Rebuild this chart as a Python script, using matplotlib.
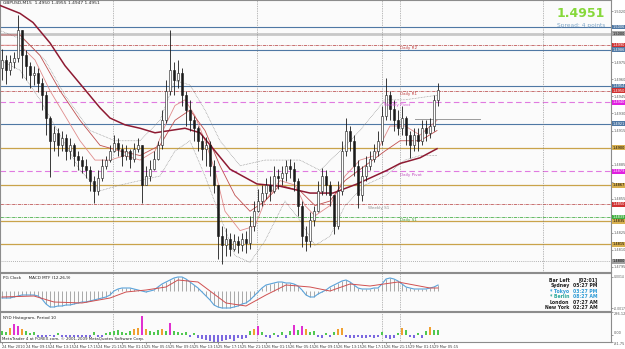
import numpy as np
import matplotlib
matplotlib.use('Agg')
import matplotlib.pyplot as plt
from matplotlib.transforms import blended_transform_factory as btf

# ---------------- data ----------------
first_open = 1.4970
close = [1.4977,1.4968,1.4975,1.4979,1.5003,1.4981,1.4972,1.4964,1.4966,1.4957,
         1.4946,1.4926,1.4906,1.4913,1.4902,1.4908,1.4897,1.4902,1.4893,1.4889,
         1.4884,1.4880,1.4871,1.4862,1.4873,1.4884,1.4889,1.4897,1.4904,1.4899,
         1.4893,1.4897,1.4890,1.4899,1.4902,1.4867,1.4875,1.4881,1.4890,1.4902,
         1.4924,1.4950,1.4968,1.4959,1.4966,1.4946,1.4933,1.4924,1.4917,1.4906,
         1.4899,1.4902,1.4884,1.4867,1.4822,1.4814,1.4820,1.4811,1.4818,1.4814,
         1.4820,1.4816,1.4831,1.4844,1.4853,1.4860,1.4867,1.4862,1.4875,1.4873,
         1.4878,1.4884,1.4881,1.4871,1.4849,1.4822,1.4818,1.4836,1.4844,1.4862,
         1.4875,1.4867,1.4858,1.4831,1.4862,1.4897,1.4915,1.4906,1.4884,1.4858,
         1.4875,1.4884,1.4890,1.4897,1.4906,1.4928,1.4946,1.4934,1.4924,1.4917,
         1.4926,1.4911,1.4902,1.4911,1.4906,1.4917,1.4913,1.4919,1.4942,1.4951]
high = [1.4987,1.4981,1.4981,1.4984,1.5017,1.5003,1.4986,1.4975,1.4972,1.4970,
        1.4961,1.4950,1.4928,1.4919,1.4917,1.4915,1.4912,1.4908,1.4904,1.4897,
        1.4893,1.4890,1.4884,1.4875,1.4880,1.4890,1.4893,1.4902,1.4911,1.4908,
        1.4903,1.4902,1.4899,1.4904,1.4908,1.4902,1.4884,1.4889,1.4897,1.4906,
        1.4933,1.4959,1.5003,1.4975,1.4977,1.4970,1.4950,1.4942,1.4928,1.4919,
        1.4911,1.4909,1.4906,1.4889,1.4867,1.4831,1.4829,1.4825,1.4824,1.4822,
        1.4825,1.4827,1.4840,1.4853,1.4864,1.4867,1.4873,1.4875,1.4884,1.4881,
        1.4884,1.4889,1.4890,1.4887,1.4873,1.4853,1.4831,1.4843,1.4849,1.4871,
        1.4882,1.4880,1.4871,1.4858,1.4871,1.4906,1.4926,1.4919,1.4911,1.4889,
        1.4884,1.4893,1.4897,1.4903,1.4915,1.4937,1.4961,1.4950,1.4942,1.4933,
        1.4937,1.4928,1.4915,1.4917,1.4917,1.4924,1.4924,1.4926,1.4946,1.4957]
low = [1.4959,1.4956,1.4964,1.4970,1.4975,1.4961,1.4959,1.4952,1.4955,1.4949,
       1.4933,1.4911,1.4874,1.4897,1.4893,1.4897,1.4889,1.4890,1.4884,1.4880,
       1.4878,1.4873,1.4862,1.4851,1.4858,1.4871,1.4881,1.4887,1.4896,1.4893,
       1.4884,1.4889,1.4882,1.4887,1.4896,1.4851,1.4867,1.4871,1.4880,1.4889,
       1.4899,1.4922,1.4946,1.4946,1.4952,1.4937,1.4919,1.4915,1.4906,1.4897,
       1.4889,1.4884,1.4875,1.4860,1.4802,1.4798,1.4805,1.4805,1.4809,1.4807,
       1.4809,1.4807,1.4811,1.4827,1.4843,1.4849,1.4855,1.4853,1.4860,1.4864,
       1.4867,1.4871,1.4873,1.4862,1.4840,1.4813,1.4809,1.4813,1.4831,1.4843,
       1.4858,1.4858,1.4849,1.4824,1.4828,1.4858,1.4893,1.4897,1.4875,1.4847,
       1.4853,1.4871,1.4880,1.4887,1.4893,1.4902,1.4924,1.4924,1.4915,1.4911,
       1.4911,1.4902,1.4891,1.4897,1.4897,1.4902,1.4906,1.4908,1.4915,1.4937]

# moving averages (bar position, price)
ma_slow_x = [-0.5,4.5,7.75,12,15.75,20.25,24.5,27,30.75,34.5,38.25,42,45.75,49.5,53.25,57,63.75,69.5,77,82.75,88.75,96.25,99.5,104.5,108.75]
ma_slow_y = [1.5025,1.5018,1.5010,1.4992,1.4972,1.4953,1.4935,1.4926,1.4920,1.4917,1.4913,1.4915,1.4917,1.4913,1.4897,1.4881,1.4868,1.4866,1.4860,1.4860,1.4868,1.4880,1.4886,1.4891,1.4899]
ema_fast_x = [-0.5,4.5,8.25,12,15.75,19.5,23.25,27,30.75,34.5,38.25,40.75,43.25,45.75,48.25,50.75,53.25,55.75,59.5,63.25,65.75,69.5,73.25,75.75,78.25,82,85.75,89.5,93.25,97,100.75,104.5,108.75]
ema_fast_y = [1.4990,1.4990,1.4977,1.4950,1.4928,1.4906,1.4889,1.4889,1.4893,1.4889,1.4897,1.4919,1.4937,1.4942,1.4928,1.4906,1.4880,1.4844,1.4827,1.4831,1.4853,1.4871,1.4867,1.4849,1.4840,1.4849,1.4875,1.4889,1.4893,1.4919,1.4919,1.4911,1.4924]
ema_mid_x = [-0.5,4.5,9.5,14.5,19.5,24.5,29.5,34.5,39.5,43.25,47,50.75,54.5,58.25,62,65.75,69.5,74.5,78.25,82,85.75,90.75,95.75,99.5,104.5,108.75]
ema_mid_y = [1.4999,1.4999,1.4981,1.4950,1.4924,1.4902,1.4897,1.4893,1.4902,1.4924,1.4933,1.4915,1.4884,1.4858,1.4844,1.4853,1.4867,1.4862,1.4849,1.4853,1.4871,1.4884,1.4897,1.4906,1.4906,1.4915]
band_up_x = [-0.5,5.75,10.75,15.75,22,28.25,34.5,39.5,43.25,47,50.75,54.5,59.5,65.75,70.75,74.5,79.5,84.5,89.5,95.75,100.75,108.75]
band_up_y = [1.5003,1.4994,1.4977,1.4946,1.4915,1.4906,1.4906,1.4924,1.4959,1.4955,1.4933,1.4906,1.4884,1.4889,1.4889,1.4889,1.4880,1.4897,1.4915,1.4942,1.4942,1.4946]
band_dn_x = [-0.5,4.5,9.5,14.5,19.5,24.5,29.5,34.5,39.5,43.25,47,50.75,54.5,58.25,62,65.75,70.75,74.5,78.25,82,85.75,90.75,95.75,100.75,104.5,108.75]
band_dn_y = [1.4977,1.4968,1.4942,1.4911,1.4880,1.4862,1.4867,1.4871,1.4875,1.4897,1.4906,1.4875,1.4840,1.4805,1.4799,1.4818,1.4853,1.4836,1.4814,1.4822,1.4849,1.4867,1.4875,1.4889,1.4893,1.4893]

# horizontal levels
level_prices = [1.5006, 1.5000, 1.4990, 1.4986, 1.4954, 1.4950, 1.4940, 1.4921,
                1.4900, 1.4879, 1.4867, 1.4850, 1.4839, 1.4835, 1.4815, 1.4800]
level_kinds = ['blue', 'round', 'red', 'blue', 'blue', 'red', 'magenta', 'blue',
               'gold', 'magenta', 'gold', 'red', 'green', 'gold', 'gold', 'grey']
level_names = [(99.5, 1.4990, 'Daily R2', '#C04040'),
               (99.5, 1.4950, 'Daily R1', '#C04040'),
               (95.5, 1.4940, 'Weekly Pivot', '#D050D0'),
               (99.5, 1.4879, 'Daily Pivot', '#C050C0'),
               (91.5, 1.4850, 'Weekly S1', '#909090'),
               (99.5, 1.4839, 'Daily S1', '#40A040')]
segment_x = [103.25, 119.5]
segment_y = [1.4925, 1.4925]
event_x = [27.75, 63.75, 95.0, 99.5]
future_x = [135.25]

price_ticks = [1.4795, 1.4810, 1.4825, 1.4840, 1.4855, 1.4870, 1.4885, 1.4900,
               1.4915, 1.4930, 1.4945, 1.4960, 1.4975, 1.4990, 1.5005, 1.5020]

macd_main = [-0.0007,-0.0007,-0.0007,-0.0006,-0.0005,-0.0004,-0.0004,-0.0004,-0.0004,-0.0005,
             -0.0008,-0.0013,-0.0016,-0.0016,-0.0015,-0.0015,-0.0014,-0.0014,-0.0013,-0.0012,
             -0.0011,-0.0011,-0.0010,-0.0009,-0.0008,-0.0007,-0.0006,-0.0004,0.0000,0.0002,
             0.0003,0.0003,0.0003,0.0002,0.0001,0.0000,-0.0001,0.0000,0.0001,0.0004,
             0.0007,0.0009,0.0011,0.0013,0.0014,0.0014,0.0012,0.0009,0.0006,0.0003,
             -0.0001,-0.0005,-0.0009,-0.0014,-0.0016,-0.0017,-0.0017,-0.0017,-0.0016,-0.0015,
             -0.0013,-0.0012,-0.0009,-0.0005,-0.0001,0.0003,0.0006,0.0007,0.0008,0.0009,
             0.0009,0.0008,0.0008,0.0007,0.0005,0.0001,-0.0004,-0.0006,-0.0006,-0.0003,
             -0.0001,0.0001,0.0004,0.0006,0.0008,0.0010,0.0011,0.0009,0.0006,0.0003,
             0.0002,0.0002,0.0002,0.0003,0.0003,0.0007,0.0012,0.0013,0.0012,0.0010,
             0.0007,0.0004,0.0003,0.0002,0.0002,0.0002,0.0002,0.0003,0.0004,0.0006]
signal_x = [0, 8, 13, 20, 27, 31, 36, 41, 44, 49, 53, 56, 61, 66, 71, 77, 82, 87, 92, 99, 103, 107, 109]
signal_y = [-0.0006,-0.0005,-0.0011,-0.0012,-0.0007,-0.0001,0.0001,0.0004,0.0011,0.0009,-0.0003,-0.0012,
            -0.0015,-0.0004,0.0006,0.0004,0.0000,0.0007,0.0005,0.0009,0.0006,0.0003,0.0003]
macd_ticks = [0.0014, -0.0017]

hist_vals = [48,36,96,144,120,72,48,24,36,-24,
             -36,-24,-12,-36,24,-24,-36,-48,-24,-36,
             -48,-24,-36,36,-24,-48,24,36,48,60,
             36,24,48,72,96,240,84,48,36,60,
             72,48,156,48,36,24,36,-24,24,-36,
             -48,-60,-72,-84,-84,-72,-60,-48,-72,-36,
             -48,-36,48,72,120,36,-24,-36,24,-24,
             36,-36,48,132,60,120,84,36,48,-24,
             -36,24,-24,36,72,96,-24,-36,-36,-24,
             -36,-36,-24,-36,-24,36,-36,-48,-36,24,
             96,60,-24,-36,24,-36,48,108,60,60]
hist_ticks = [286.12, 0.0, -81.75]

time_labels = ['24 Mar 2010','24 Mar 09:15','24 Mar 13:15','24 Mar 17:15','24 Mar 21:15',
               '25 Mar 01:15','25 Mar 05:15','25 Mar 09:15','25 Mar 13:15','25 Mar 17:15',
               '25 Mar 21:15','26 Mar 01:15','26 Mar 05:15','26 Mar 09:15','26 Mar 13:15',
               '26 Mar 17:15','26 Mar 21:15','29 Mar 01:15','29 Mar 05:15']
bars_per_label = 6

clock_names = ['Bar Left', 'Sydney', '* Tokyo', '* Berlin', 'London', 'New York']
clock_times = ['[02:01]', '05:27 PM', '03:27 PM', '08:27 AM', '07:27 AM', '02:27 AM']

# ---------------- figure ----------------
W, H = 625, 349
fig = plt.figure(figsize=(W / 100, H / 100), dpi=100, facecolor='white')
axw = 611 / W
BG = '#FBFBFB'
ax = fig.add_axes([0, (H - 272) / H, axw, 272 / H], facecolor=BG)
axm = fig.add_axes([0, (H - 311) / H, axw, 38 / H], facecolor=BG)
axh = fig.add_axes([0, (H - 342) / H, axw, 30 / H], facecolor=BG)

n = len(close)
xs = np.arange(n)
c = np.array(close)
o = np.r_[first_open, c[:-1]]
h = np.array(high)
l = np.array(low)
XL = (-0.5, 152.25)
LBL = 2.5

for a in (ax, axm, axh):
    a.set_xlim(*XL)
    for s in a.spines.values():
        s.set_color('#8C8C8C')
        s.set_linewidth(0.8)
    a.tick_params(axis='x', bottom=False, labelbottom=False)
    a.yaxis.tick_right()
    a.tick_params(axis='y', labelsize=LBL, colors='#555555', length=1.2, width=0.4, pad=0.8)

# main price panel
ax.set_ylim(1.4795 - 5 / 11330, 1.4795 + 266 / 11330)
ax.set_yticks(price_ticks)
lv = np.array(level_prices)
ax.set_yticklabels(['' if np.min(np.abs(lv - p)) < 0.00045 else f'{p:.4f}' for p in price_ticks])

styles = {
    'blue': dict(color='#4F78A4', lw=0.8, ls='-'),
    'round': dict(color='#C8C8C8', lw=2.0, ls='-'),
    'red': dict(color='#C05A5A', lw=0.6, ls=(0, (4, 1, 1, 1))),
    'magenta': dict(color='#E07AE0', lw=0.8, ls=(0, (5, 3))),
    'gold': dict(color='#C9A34A', lw=0.9, ls='-'),
    'green': dict(color='#4CB04C', lw=0.6, ls=(0, (4, 1, 1, 1))),
    'grey': dict(color='#9A9A9A', lw=0.6, ls=(0, (1, 1.5))),
}
box_colors = {'blue': '#4F78A4', 'round': '#A8A8A8', 'red': '#D03030', 'magenta': '#E020E0',
              'gold': '#D8B050', 'green': '#40B040', 'grey': '#A0A0A0'}
for p, k in zip(level_prices, level_kinds):
    ax.axhline(p, zorder=1, **styles[k])

for xv in event_x:
    for a in (ax, axm, axh):
        a.axvline(xv, color='#7A7A7A', lw=0.5, ls=(0, (1, 1.5)), zorder=1)
for xv in future_x:
    ax.axvline(xv, color='#7A7A7A', lw=0.5, ls=(0, (1, 1.5)), zorder=1)

ax.plot(band_up_x, band_up_y, color='#8A8A8A', lw=0.5, ls=(0, (1, 1.2)), zorder=2)
ax.plot(band_dn_x, band_dn_y, color='#8A8A8A', lw=0.5, ls=(0, (1, 1.2)), zorder=2)
ax.plot(ema_fast_x, ema_fast_y, color='#E08C8C', lw=0.6, zorder=2)
ax.plot(ema_mid_x, ema_mid_y, color='#C05050', lw=0.6, zorder=2)
ax.plot(ma_slow_x, ma_slow_y, color='#8E1A32', lw=1.1, zorder=3)
ax.plot(segment_x, segment_y, color='#9A9A9A', lw=0.7, zorder=2)

up = c >= o
ax.vlines(xs, l, h, color='#1A1A1A', lw=0.6, zorder=4)
bot = np.minimum(o, c)
hgt = np.maximum(np.abs(c - o), 0.00005)
ax.bar(xs[up], hgt[up], bottom=bot[up], width=0.6, color='white', edgecolor='#1A1A1A', lw=0.4, zorder=5)
ax.bar(xs[~up], hgt[~up], bottom=bot[~up], width=0.6, color='#1A1A1A', edgecolor='#1A1A1A', lw=0.4, zorder=5)

trY = btf(ax.transAxes, ax.transData)
for p, k in zip(level_prices, level_kinds):
    ax.text(1.003, p, f'{p:.4f}', transform=trY, fontsize=LBL,
            color='white' if k not in ('gold', 'round', 'grey') else 'black',
            va='center', ha='left', clip_on=False, zorder=10,
            bbox=dict(boxstyle='square,pad=0.12', fc=box_colors[k], ec='none'))
for xv, p, t, col in level_names:
    ax.text(xv, p - 0.0001, t, fontsize=3.0, color=col, va='top', ha='left', zorder=6)

ax.text(0.005, 0.995, 'GBPUSD,M15  1.4950 1.4955 1.4947 1.4951', transform=ax.transAxes,
        fontsize=3.2, color='#202020', va='top', ha='left')
ax.text(0.99, 0.975, f'{close[-1]:.4f}', transform=ax.transAxes, fontsize=9, fontweight='bold',
        color='#86D83A', va='top', ha='right')
ax.text(0.99, 0.915, 'Spread: 4 points', transform=ax.transAxes, fontsize=4.2,
        color='#7FA6C8', va='top', ha='right')

# MACD panel
axm.set_ylim(-0.0020, 0.0018)
axm.vlines(xs, 0, macd_main, color='#A8A8A8', lw=0.7, zorder=2)
axm.plot(xs, macd_main, color='#5BA3DA', lw=0.8, zorder=3)
axm.plot(signal_x, signal_y, color='#D05050', lw=0.7, zorder=3)
axm.set_yticks(macd_ticks)
axm.set_yticklabels([f'{v:.4f}' for v in macd_ticks])
axm.tick_params(axis='y', labelsize=2.2, pad=0.6)
axm.text(0.005, 0.93, 'PG Clock      MACD MTF (12,26,9)', transform=axm.transAxes,
         fontsize=3.0, color='#202020', va='top', ha='left')
name_cols = ['#202020', '#202020', '#2E9BD6', '#2BA89A', '#202020', '#202020']
time_cols = ['#202020', '#202020', '#2E9BD6', '#2E9BD6', '#202020', '#202020']
for k, (nm, tm) in enumerate(zip(clock_names, clock_times)):
    yy = 0.88 - k * 0.145
    axm.text(0.932, yy, nm, transform=axm.transAxes, fontsize=3.3, fontweight='bold',
             color=name_cols[k], ha='right', va='top')
    axm.text(0.978, yy, tm, transform=axm.transAxes, fontsize=3.3, fontweight='bold',
             color=time_cols[k], ha='right', va='top')

# histogram panel
axh.set_ylim(-84, 290)
hv = np.array(hist_vals, dtype=float)
cols = np.where(hv < 0, '#7B68E0', np.where(hv < 70, '#50C850', np.where(hv < 115, '#F0A030', '#E030D0')))
axh.bar(xs, hv, width=0.55, color=cols, zorder=2)
axh.set_yticks(hist_ticks)
axh.set_yticklabels([f'{v:.2f}' for v in hist_ticks])
for lb, dy in zip(axh.get_yticklabels(), ['top', 'bottom', 'top']):
    lb.set_va(dy)
axh.text(0.005, 0.88, 'NYD Histogram, Period 10', transform=axh.transAxes,
         fontsize=3.0, color='#202020', va='top', ha='left')
axh.text(0.004, 0.03, 'MetaTrader 4 at FOREX.com, \u00a9 2001-2009 MetaQuotes Software Corp.',
         transform=axh.transAxes, fontsize=2.9, color='#202020', va='bottom', ha='left', zorder=6,
         bbox=dict(boxstyle='square,pad=0.1', fc='white', ec='none'))

tick_pos = np.arange(len(time_labels)) * bars_per_label
axh.set_xticks(tick_pos)
axh.set_xticklabels(time_labels)
axh.tick_params(axis='x', bottom=True, labelbottom=True, labelsize=2.6, colors='#404040',
                length=1.5, width=0.4, pad=0.8)
for lb in axh.get_xticklabels():
    lb.set_ha('left')

fig.savefig('out.png', dpi=100, facecolor='white')
